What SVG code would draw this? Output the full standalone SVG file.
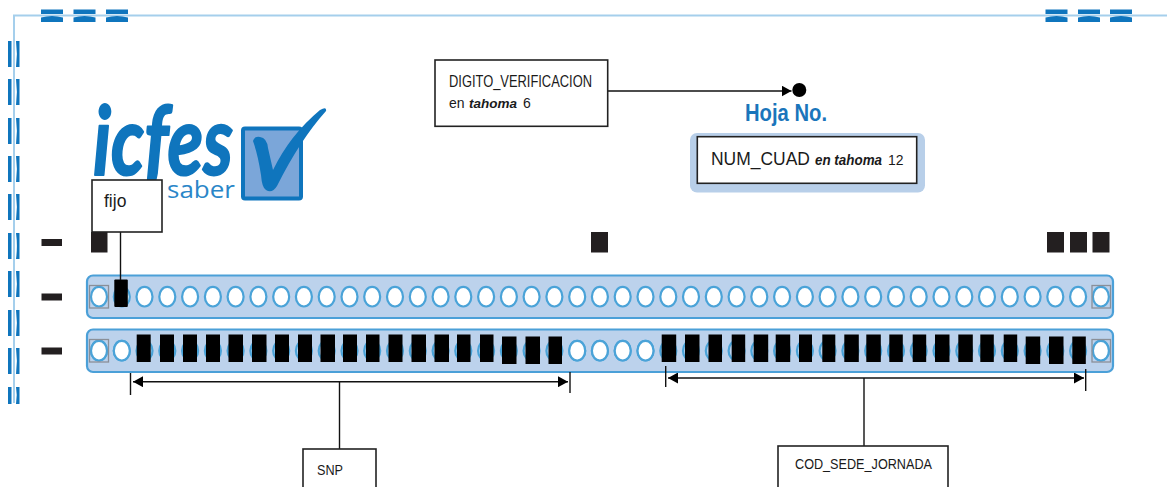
<svg xmlns="http://www.w3.org/2000/svg" xmlns:xlink="http://www.w3.org/1999/xlink" width="1167" height="487" viewBox="0 0 1167 487">
<style>
.t{font-family:"Liberation Sans",Arial,sans-serif;fill:#1a1a1a}
.box{fill:#fff;stroke:#222;stroke-width:1.6}
.frame{fill:none;stroke:#a5cfec;stroke-width:2}
.dash{fill:#0f75bd}
.mk{fill:#231f20}
.bar{fill:#bcd2ec;stroke:#4ba0d8;stroke-width:2.200}
.holes{stroke:#4aa3d8;stroke-width:2.200}
.reg{fill:none;stroke:#8a8f98;stroke-width:1.3}
.blk{fill:#000}
.ln{fill:none;stroke:#111;stroke-width:1.400}
</style>
<defs>
<marker id="ah" markerUnits="userSpaceOnUse" viewBox="0 0 10 11" refX="10" refY="5.5" markerWidth="10" markerHeight="11" orient="auto-start-reverse"><path d="M0 0L10 5.5L0 11Z" fill="#000"/></marker>
<g id="hd"><rect x="0" y="0" width="22" height="4.5" class="dash"/><path d="M0 8Q11 5 22 8V12.500H0Z" class="dash"/></g>
<g id="vd"><rect x="0" y="0" width="3.500" height="26" class="dash"/><path d="M8 0H11.500V26H8Q9.800 13 8 0Z" class="dash"/></g>
<g id="holes">
<ellipse cx="99" rx="8" ry="9.800"/><ellipse cx="121.800" rx="8" ry="9.800"/><ellipse cx="144.500" rx="8" ry="9.800"/><ellipse cx="167.300" rx="8" ry="9.800"/><ellipse cx="190.100" rx="8" ry="9.800"/><ellipse cx="212.900" rx="8" ry="9.800"/><ellipse cx="235.600" rx="8" ry="9.800"/><ellipse cx="258.400" rx="8" ry="9.800"/><ellipse cx="281.200" rx="8" ry="9.800"/><ellipse cx="303.900" rx="8" ry="9.800"/><ellipse cx="326.700" rx="8" ry="9.800"/><ellipse cx="349.500" rx="8" ry="9.800"/><ellipse cx="372.200" rx="8" ry="9.800"/><ellipse cx="395" rx="8" ry="9.800"/><ellipse cx="417.800" rx="8" ry="9.800"/><ellipse cx="440.600" rx="8" ry="9.800"/><ellipse cx="463.300" rx="8" ry="9.800"/><ellipse cx="486.100" rx="8" ry="9.800"/><ellipse cx="508.900" rx="8" ry="9.800"/><ellipse cx="531.600" rx="8" ry="9.800"/><ellipse cx="554.400" rx="8" ry="9.800"/><ellipse cx="577.200" rx="8" ry="9.800"/><ellipse cx="599.900" rx="8" ry="9.800"/><ellipse cx="622.700" rx="8" ry="9.800"/><ellipse cx="645.500" rx="8" ry="9.800"/><ellipse cx="668.300" rx="8" ry="9.800"/><ellipse cx="691" rx="8" ry="9.800"/><ellipse cx="713.800" rx="8" ry="9.800"/><ellipse cx="736.600" rx="8" ry="9.800"/><ellipse cx="759.300" rx="8" ry="9.800"/><ellipse cx="782.100" rx="8" ry="9.800"/><ellipse cx="804.900" rx="8" ry="9.800"/><ellipse cx="827.600" rx="8" ry="9.800"/><ellipse cx="850.400" rx="8" ry="9.800"/><ellipse cx="873.200" rx="8" ry="9.800"/><ellipse cx="896" rx="8" ry="9.800"/><ellipse cx="918.700" rx="8" ry="9.800"/><ellipse cx="941.500" rx="8" ry="9.800"/><ellipse cx="964.300" rx="8" ry="9.800"/><ellipse cx="987" rx="8" ry="9.800"/><ellipse cx="1009.800" rx="8" ry="9.800"/><ellipse cx="1032.600" rx="8" ry="9.800"/><ellipse cx="1055.300" rx="8" ry="9.800"/><ellipse cx="1078.100" rx="8" ry="9.800"/><ellipse cx="1100.900" rx="8" ry="9.800"/>
</g>
</defs>
<rect width="1167" height="487" fill="#fff"/>

<g id="sheet-frame">
<path class="frame" d="M14 403V15.500H1167"/>
<use href="#hd" x="41" y="9.500"/><use href="#hd" x="73.500" y="9.500"/><use href="#hd" x="106" y="9.500"/>
<use href="#hd" x="1045.500" y="9.500"/><use href="#hd" x="1078" y="9.500"/><use href="#hd" x="1110" y="9.500"/>
<use href="#vd" x="8" y="41"/><use href="#vd" x="8" y="79"/><use href="#vd" x="8" y="118"/><use href="#vd" x="8" y="156"/><use href="#vd" x="8" y="194"/><use href="#vd" x="8" y="233"/><use href="#vd" x="8" y="271"/><use href="#vd" x="8" y="310"/><use href="#vd" x="8" y="348"/>
<path class="dash" d="M8 387H11.500V404H8ZM16 387H19.500V404H16Q17.500 395 16 387Z"/>
</g>

<g id="logo">
<text x="93" y="175" font-family="Lato, 'Open Sans', sans-serif" font-size="96" font-weight="700" font-style="italic" textLength="140" lengthAdjust="spacingAndGlyphs" fill="#0f75bd" stroke="#0f75bd" stroke-width="2" stroke-linejoin="round">icfes</text>
<text x="167" y="198" font-family="'Open Sans', sans-serif" font-size="23" textLength="68" lengthAdjust="spacingAndGlyphs" fill="#2a86c8">saber</text>
<rect x="243" y="128.500" width="58" height="70" rx="2" fill="#7ba6d9" stroke="#0f75bd" stroke-width="4"/>
<path fill="#0f75bd" d="M253 141Q254 136 260 137Q267 138 268 148L273 170Q290 135 320 110Q327 106 326 111Q300 140 277 186Q272 194 266 190Q262 188 261 175Q258 155 253 141Z"/>
</g>

<g id="timing-marks">
<rect class="mk" x="41.500" y="239" width="20.500" height="7"/>
<rect class="mk" x="41.500" y="293.500" width="20.500" height="7"/>
<rect class="mk" x="41.500" y="347.500" width="20.500" height="7"/>
<rect class="mk" x="91" y="232" width="16.500" height="20.500"/>
<rect class="mk" x="591" y="232" width="17" height="20.500"/>
<rect class="mk" x="1047" y="232" width="17" height="20.500"/>
<rect class="mk" x="1070" y="232" width="17" height="20.500"/>
<rect class="mk" x="1092.500" y="232" width="17" height="20.500"/>
</g>

<g id="row-1">
<rect class="bar" x="87" y="275.500" width="1026" height="42.500" rx="6"/>
<use href="#holes" y="296.700" class="holes" fill="#fff"/>
<rect class="reg" x="89.500" y="285.500" width="19" height="22.500"/>
<rect class="reg" x="1092" y="285.500" width="18.500" height="22.500"/>
<rect class="blk" x="114.300" y="279.500" width="13.500" height="27.500" rx="1"/>
</g>

<g id="row-2">
<rect class="bar" x="87" y="329.500" width="1026" height="42.500" rx="6"/>
<use href="#holes" y="350.700" class="holes" fill="#bcd2ec"/>
<g class="holes" fill="#fff">
<ellipse cx="99" cy="350.700" rx="8" ry="9.800"/><ellipse cx="121.800" cy="350.700" rx="8" ry="9.800"/><ellipse cx="577.200" cy="350.700" rx="8" ry="9.800"/><ellipse cx="599.900" cy="350.700" rx="8" ry="9.800"/><ellipse cx="622.700" cy="350.700" rx="8" ry="9.800"/><ellipse cx="645.500" cy="350.700" rx="8" ry="9.800"/><ellipse cx="1100.900" cy="350.700" rx="8" ry="9.800"/>
</g>
<rect class="reg" x="89.500" y="339.500" width="19" height="22.500"/>
<rect class="reg" x="1092" y="339.500" width="18.500" height="22.500"/>
<g class="blk">
<rect x="136.700" y="334.500" width="14" height="27.500"/><rect x="160" y="334.500" width="14" height="27.500"/><rect x="183" y="334.500" width="14" height="27.500"/><rect x="206" y="334.500" width="14" height="27.500"/><rect x="228.500" y="334.500" width="14.500" height="27.500"/><rect x="252" y="334.500" width="14.500" height="27.500"/><rect x="275" y="334.500" width="14" height="27.500"/><rect x="298" y="334.500" width="14" height="27.500"/><rect x="320.500" y="334.500" width="14.500" height="27.500"/><rect x="343" y="334.500" width="14" height="27.500"/><rect x="366" y="334.500" width="13.500" height="27.500"/><rect x="388.500" y="334.500" width="14" height="27.500"/><rect x="411.500" y="334.500" width="14.500" height="27.500"/><rect x="434.500" y="334.500" width="14.500" height="27.500"/><rect x="457" y="334.500" width="13.500" height="27.500"/><rect x="480" y="334.500" width="13.500" height="27.500"/><rect x="502" y="336.500" width="14.500" height="27.500"/><rect x="525.500" y="336.500" width="14.500" height="27.500"/><rect x="548.500" y="336.500" width="13.500" height="27.500"/>
<rect x="661.700" y="334.500" width="14.500" height="27.500"/><rect x="685" y="334.500" width="14.500" height="27.500"/><rect x="708.500" y="334.500" width="13.500" height="27.500"/><rect x="731.700" y="334.500" width="13.500" height="27.500"/><rect x="753.700" y="334.500" width="14.500" height="27.500"/><rect x="775.700" y="334.500" width="14.500" height="27.500"/><rect x="799" y="334.500" width="13" height="27.500"/><rect x="822.300" y="334.500" width="13" height="27.500"/><rect x="844.300" y="334.500" width="14.500" height="27.500"/><rect x="866.300" y="334.500" width="14.500" height="27.500"/><rect x="889.300" y="334.500" width="13.500" height="27.500"/><rect x="912.700" y="334.500" width="13.500" height="27.500"/><rect x="935" y="334.500" width="14.500" height="27.500"/><rect x="958.300" y="334.500" width="14.500" height="27.500"/><rect x="980.300" y="334.500" width="13.500" height="27.500"/><rect x="1003.700" y="334.500" width="13.500" height="27.500"/><rect x="1025.700" y="336.500" width="14.500" height="27.500"/><rect x="1049" y="336.500" width="14.500" height="27.500"/><rect x="1072.300" y="336.500" width="13.500" height="27.500"/>
</g>
</g>

<g id="connectors">
<path class="ln" d="M120.500 232V280"/>
<path class="ln" d="M608 91H791.500" marker-end="url(#ah)"/>
<path class="ln" d="M130.500 373V395M570 372V393"/>
<path class="ln" d="M133 381.700H568" marker-start="url(#ah)" marker-end="url(#ah)"/>
<path class="ln" d="M665.700 366V387M1085.700 369V391"/>
<path class="ln" d="M668 378H1084" marker-start="url(#ah)" marker-end="url(#ah)"/>
<path class="ln" d="M339.500 382V449"/>
<path class="ln" d="M864 378V446"/>
</g>

<g id="fijo">
<rect class="box" x="92" y="180" width="70" height="52"/>
<text class="t" x="104" y="206.500" font-size="17.500">fijo</text>
</g>

<g id="digito">
<rect class="box" x="435" y="60" width="172.700" height="66.300"/>
<text class="t" x="449" y="87" font-size="16" textLength="143" lengthAdjust="spacingAndGlyphs">DIGITO_VERIFICACION</text>
<text class="t" x="449" y="108" font-size="14">en <tspan x="469" font-size="13.500" font-weight="700" font-style="italic">tahoma</tspan> <tspan x="523">6</tspan></text>
</g>

<g id="hoja">
<circle cx="799.300" cy="90" r="7" fill="#000"/>
<text class="t" x="745" y="121" font-size="24" font-weight="700" textLength="82" lengthAdjust="spacingAndGlyphs" style="fill:#1a75bb">Hoja No.</text>
<rect x="690" y="133" width="235" height="59.500" rx="7" fill="#b8cfe9"/>
<rect class="box" x="697.300" y="136.700" width="219.400" height="46.600"/>
<text class="t" x="711" y="165" font-size="19" textLength="99" lengthAdjust="spacingAndGlyphs">NUM_CUAD</text>
<text class="t" x="815" y="165" font-size="14" font-weight="700" font-style="italic" textLength="67" lengthAdjust="spacingAndGlyphs">en tahoma</text>
<text class="t" x="888" y="165" font-size="14.500" textLength="15.500" lengthAdjust="spacingAndGlyphs">12</text>
</g>

<g id="snp">
<rect class="box" x="303" y="449" width="73" height="50"/>
<text class="t" x="317" y="475" font-size="15" textLength="26" lengthAdjust="spacingAndGlyphs">SNP</text>
</g>

<g id="cod-sede-jornada">
<rect class="box" x="778" y="446" width="170" height="55"/>
<text class="t" x="795" y="469" font-size="15.500" textLength="137" lengthAdjust="spacingAndGlyphs">COD_SEDE_JORNADA</text>
</g>
</svg>
